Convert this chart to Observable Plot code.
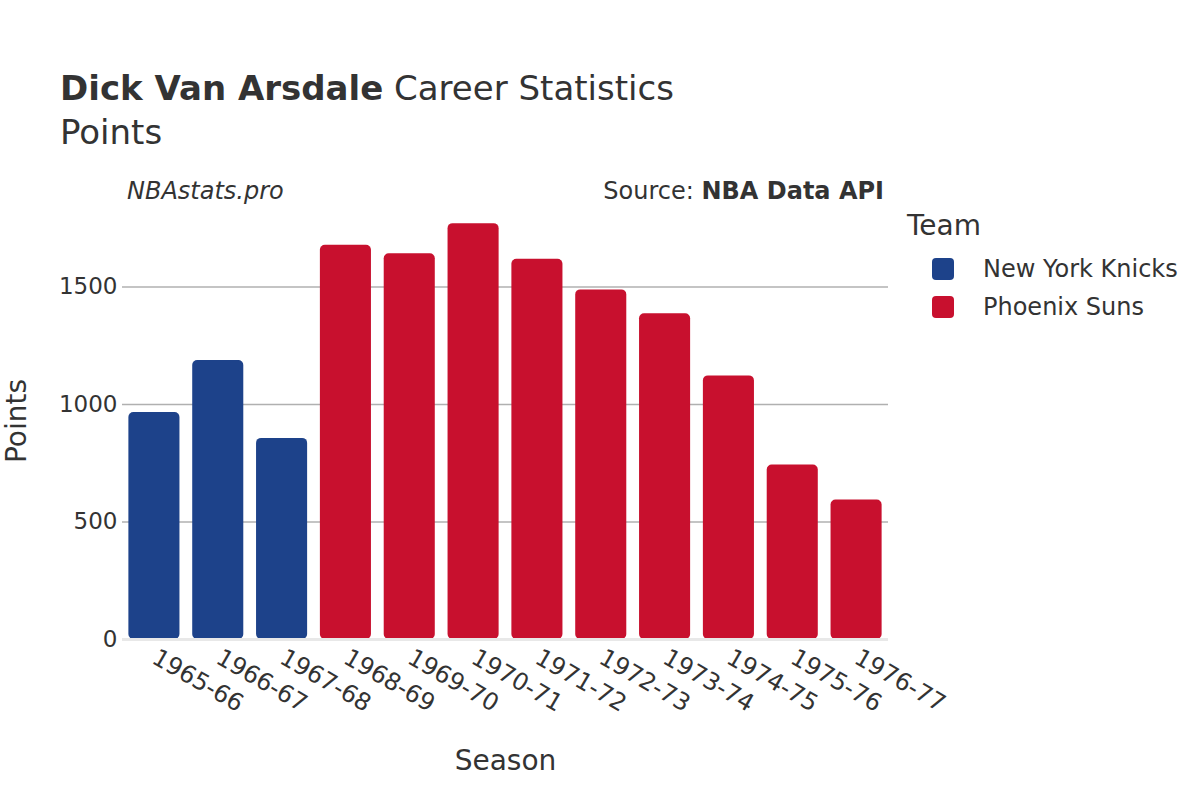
<!DOCTYPE html>
<html>
<head>
<meta charset="utf-8">
<script src="https://cdn.jsdelivr.net/npm/d3@7"></script>
<script src="https://cdn.jsdelivr.net/npm/@observablehq/plot@0.6"></script>
<style>
  html, body { margin: 0; padding: 0; background: #fff; }
  #wrap { position: relative; width: 1200px; height: 800px; font-family: "DejaVu Sans", sans-serif; color: #333; }
  .abs { position: absolute; white-space: nowrap; }
  #chart { position: absolute; left: 0; top: 0; }
</style>
</head>
<body>
<div id="wrap">
  <div id="chart"></div>
  <div class="abs" style="left:60px; top:68px; font-size:34px;"><b>Dick Van Arsdale</b> Career Statistics</div>
  <div class="abs" style="left:60px; top:112px; font-size:34px;">Points</div>
  <div class="abs" style="left:127px; top:177px; font-size:24px; font-style:italic;">NBAstats.pro</div>
  <div class="abs" style="right:316px; top:177px; font-size:24px;">Source: <b>NBA Data API</b></div>
  <div id="legend" class="abs" style="left:907px; top:209px;"></div>
</div>
<script>
const seasons = ["1965-66","1966-67","1967-68","1968-69","1969-70","1970-71","1971-72","1972-73","1973-74","1974-75","1975-76","1976-77"];
const teams = ["New York Knicks","New York Knicks","New York Knicks","Phoenix Suns","Phoenix Suns","Phoenix Suns","Phoenix Suns","Phoenix Suns","Phoenix Suns","Phoenix Suns","Phoenix Suns","Phoenix Suns"];
const points = [966, 1187, 856, 1678, 1642, 1770, 1618, 1488, 1386, 1122, 743, 594];
const teamNames = ["New York Knicks", "Phoenix Suns"];
const teamColors = ["#1D428A", "#C8102E"];
const yTicks = [0, 500, 1000, 1500];

const data = seasons.map((s, i) => ({season: s, team: teams[i], points: points[i]}));

const plot = Plot.plot({
  width: 1200,
  height: 800,
  marginLeft: 122,
  marginRight: 312,
  marginTop: 202,
  marginBottom: 161,
  style: {fontFamily: "DejaVu Sans, sans-serif", fontSize: "23px", color: "#333", background: "transparent"},
  x: {domain: seasons, paddingInner: 0.2, paddingOuter: 0.1, round: false, label: null},
  y: {domain: [0, 1860], label: null},
  color: {domain: teamNames, range: teamColors},
  marks: [
    Plot.gridY(yTicks, {stroke: "#b0b0b0", strokeOpacity: 1, strokeWidth: 1.5}),
    Plot.barY(data, {x: "season", y: "points", fill: "team", rx: 5}),
    Plot.ruleY([0], {stroke: "#e8e8e8", strokeWidth: 3}),
    Plot.axisY({ticks: yTicks, tickSize: 0, tickPadding: 5, fontSize: 23, tickFormat: d3.format("d"), label: null}),
    Plot.axisX({tickSize: 0, tickPadding: 16, tickRotate: 30, fontSize: 24, label: null}),
    Plot.text(["Season"], {frameAnchor: "bottom", dy: 130, fontSize: 28, fill: "#333", textAnchor: "middle"}),
    Plot.text(["Points"], {frameAnchor: "left", dx: -105, rotate: -90, fontSize: 28, fill: "#333", textAnchor: "middle"})
  ]
});
document.getElementById("chart").appendChild(plot);

// legend
const leg = document.getElementById("legend");
let html = '<div style="font-size:28px; margin-bottom:8px;">Team</div>';
teamNames.forEach((t, i) => {
  html += `<div style="display:flex; align-items:center; height:38px; margin-left:25px;">
    <span style="display:inline-block; width:22px; height:22px; border-radius:4px; background:${teamColors[i]}; margin-right:29px;"></span>
    <span style="font-size:24px;">${t}</span></div>`;
});
leg.innerHTML = html;
</script>
</body>
</html>
